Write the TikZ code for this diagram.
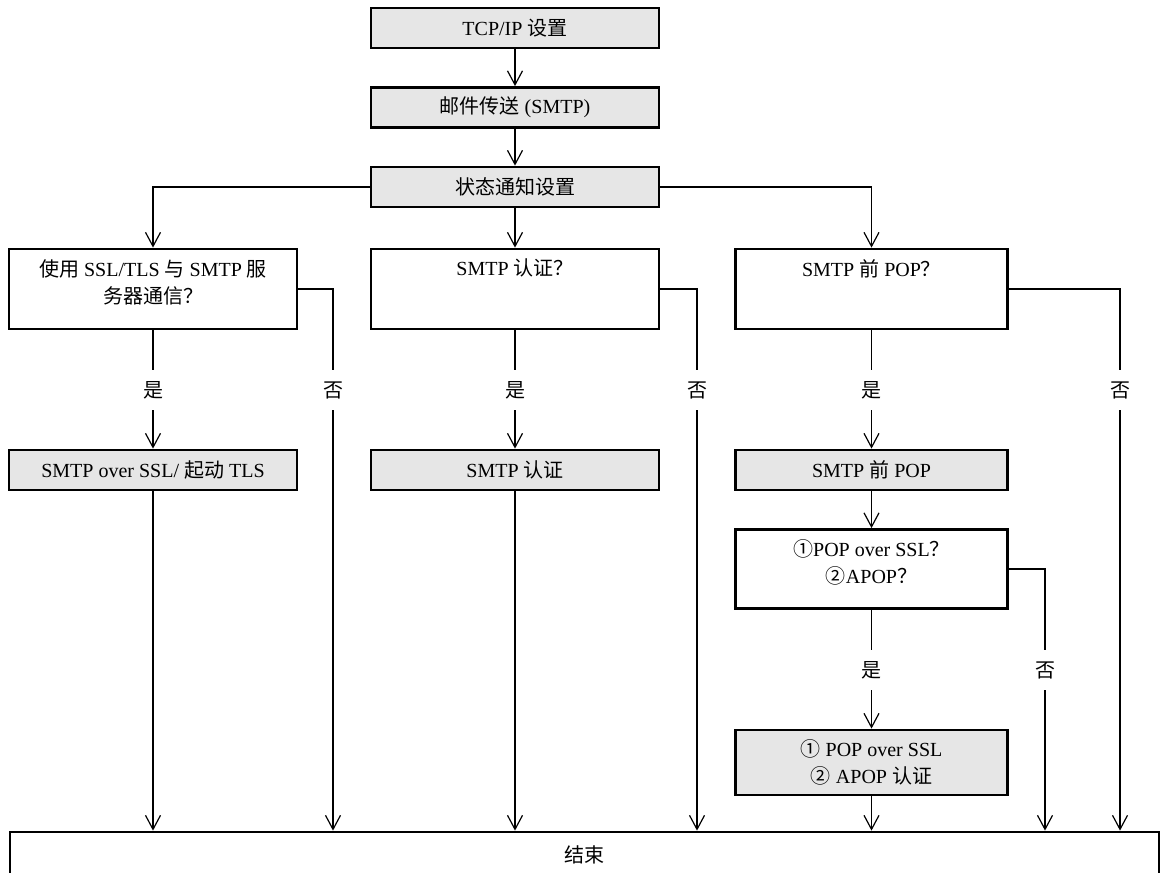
\documentclass[tikz,border=0pt]{standalone}
\usepackage{fontspec}
\setmainfont{Liberation Serif}
\newfontfamily\cjk{Noto Sans CJK SC}
\newcommand{\zh}[1]{{\cjk #1}}
\usetikzlibrary{arrows.meta}
\definecolor{boxgray}{HTML}{E6E6E6}

\begin{document}
\begin{tikzpicture}[
      x=0.5pt, y=-0.5pt, line width=0.6pt,
      every node/.style={font=\fontsize{10}{13.5}\selectfont},
      proc/.style={draw, line width=1.4pt, fill=boxgray, minimum width=144pt, minimum height=20pt, inner sep=0pt, align=center},
      ques/.style={draw, line width=1.4pt, minimum width=144pt, minimum height=40pt, inner sep=0pt},
      intext/.style={anchor=north, align=center, inner sep=0pt, yshift=-5.5pt},
      lbl/.style={inner xsep=2pt, inner ysep=5.5pt},
      >={Straight Barb[length=7pt,width=7.5pt]},
    ]
    \useasboundingbox (0,0) rectangle (1160,872);

    % Top chain
    \node[proc] (tcp) at (515,28) {TCP/IP \zh{设置}};
    \node[proc] (mail) at (515,107.5) {\zh{邮件传送} (SMTP)};
    \node[proc] (notify) at (515,187) {\zh{状态通知设置}};

    % Questions
    \node[ques, label={[intext]north:\zh{使用} SSL/TLS \zh{与} SMTP \zh{服}\\\zh{务器通信？}}] (q1) at (153,289) {};
    \node[ques, label={[intext]north:SMTP \zh{认证？}}] (q2) at (515,289) {};
    \node[ques, minimum width=136pt, label={[intext]north:SMTP \zh{前} POP\zh{？}}] (q3) at (871.5,289) {};

    % Actions
    \node[proc] (a1) at (153,470) {SMTP over SSL/ \zh{起动} TLS};
    \node[proc] (a2) at (515,470) {SMTP \zh{认证}};
    \node[proc, minimum width=136pt] (a3) at (871.5,470) {SMTP \zh{前} POP};
    \node[ques, minimum width=136pt, minimum height=39.5pt,
          label={[intext]north:\zh{①}POP over SSL\zh{？}\\\zh{②}APOP\zh{？}}] (q4) at (871.5,569) {};
    \node[proc, minimum width=136pt, minimum height=32.5pt] (a4) at (871.5,762.5) {\zh{①} POP over SSL\\\zh{②} APOP \zh{认证}};

    % End
    \node[ques, fill=white, minimum width=574.5pt, minimum height=23pt] (fin) at (584.5,855) {\zh{结束}};

    % Yes / no labels
    \node[lbl] (y1) at (153,390) {\zh{是}};
    \node[lbl] (y2) at (515,390) {\zh{是}};
    \node[lbl] (y3) at (871.5,390) {\zh{是}};
    \node[lbl] (y4) at (871.5,670) {\zh{是}};
    \node[lbl] (n1) at (333,390) {\zh{否}};
    \node[lbl] (n2) at (697,390) {\zh{否}};
    \node[lbl] (n3) at (1120,390) {\zh{否}};
    \node[lbl] (n4) at (1045,670) {\zh{否}};

    \draw[->] (tcp) -- (mail);
    \draw[->] (mail) -- (notify);
    \draw[->] (notify.west) -| (q1.north);
    \draw[->] (notify) -- (q2);
    \draw[->] (notify.east) -| (q3.north);

    \draw (q1) -- (y1);
    \draw[->] (y1) -- (a1);
    \draw (q2) -- (y2);
    \draw[->] (y2) -- (a2);
    \draw (q3) -- (y3);
    \draw[->] (y3) -- (a3);
    \draw[->] (a3) -- (q4);
    \draw (q4) -- (y4);
    \draw[->] (y4) -- (a4);

    \draw (q1.east) -| (n1.north);
    \draw (q2.east) -| (n2.north);
    \draw (q3.east) -| (n3.north);
    \draw (q4.east) -| (n4.north);

    \draw[->] (a1) -- (a1 |- fin.north);
    \draw[->] (n1) -- (n1 |- fin.north);
    \draw[->] (a2) -- (a2 |- fin.north);
    \draw[->] (n2) -- (n2 |- fin.north);
    \draw[->] (a4) -- (a4 |- fin.north);
    \draw[->] (n4) -- (n4 |- fin.north);
    \draw[->] (n3) -- (n3 |- fin.north);
  \end{tikzpicture}
\end{document}
